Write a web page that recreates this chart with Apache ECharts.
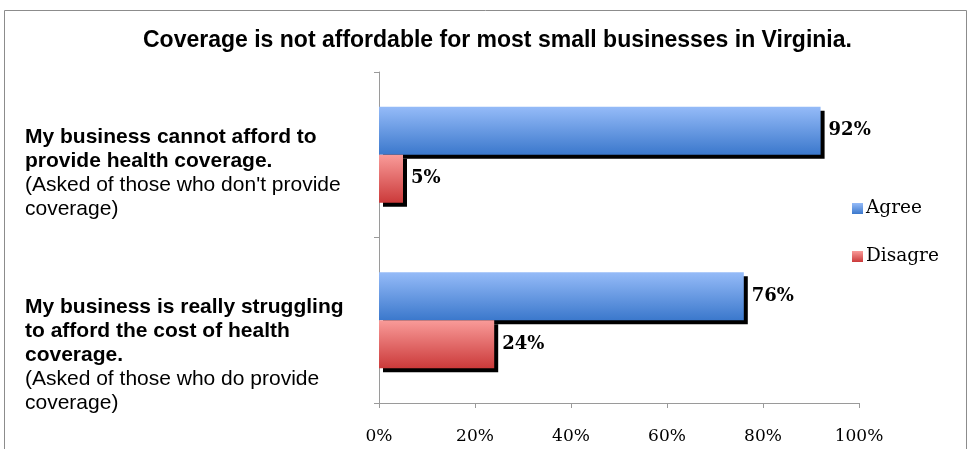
<!DOCTYPE html>
<html>
<head>
<meta charset="utf-8">
<script src="https://cdn.jsdelivr.net/npm/echarts@6/dist/echarts.min.js"></script>
<style>html,body{margin:0;padding:0;background:#fff}#c{width:971px;height:449px}</style>
</head>
<body>
<div id="c"></div>
<script>
const titleText = 'Coverage is not affordable for most small businesses in Virginia.';
const categories = ['cannot', 'struggling'];
const categoryBold = [
  ['My business cannot afford to', 'provide health coverage.'],
  ['My business is really struggling', 'to afford the cost of health', 'coverage.']
];
const categoryNote = [
  ['(Asked of those who don\'t provide', 'coverage)'],
  ['(Asked of those who do provide', 'coverage)']
];
const seriesNames = ['Agree', 'Disagre'];
const agreeValues = [92, 76];
const disagreeValues = [5, 24];
const xTicks = [0, 20, 40, 60, 80, 100];

const chart = echarts.init(document.getElementById('c'), null, {renderer: 'canvas'});

function grad(top, bottom) {
  return new echarts.graphic.LinearGradient(0, 0, 0, 1, [
    {offset: 0, color: top}, {offset: 1, color: bottom}
  ]);
}
const blue = grad('#95BBF8', '#3B78CC');
const red = grad('#F99B99', '#CB3A3A');

const barStyle = (c) => ({
  color: c, shadowColor: '#000', shadowBlur: 0, shadowOffsetX: 4, shadowOffsetY: 4
});
const valueLabel = {
  show: true, position: 'right', distance: 8,
  formatter: '{c}%', color: '#000',
  fontFamily: 'DejaVu Serif', fontWeight: 'bold', fontSize: 18
};

chart.setOption({
  animation: false,
  backgroundColor: '#fff',
  title: {
    text: titleText, left: 138, top: 24,
    textStyle: {fontFamily: 'Liberation Sans, Arial', fontWeight: 'bold', fontSize: 23, color: '#000'}
  },
  graphic: [{
    type: 'rect', shape: {x: 4.5, y: 10.5, width: 962, height: 470},
    style: {fill: 'none', stroke: '#8c8c8c', lineWidth: 1}, silent: true, z: 100
  }],
  legend: {
    orient: 'vertical', left: 847, top: 194, itemGap: 29,
    itemWidth: 11, itemHeight: 11, icon: 'rect',
    data: seriesNames,
    itemStyle: {shadowColor: 'rgba(0,0,0,0)', shadowOffsetX: 0, shadowOffsetY: 0},
    textStyle: {fontFamily: 'DejaVu Serif', fontSize: 18.5, color: '#000', padding: [0, 0, 0, -2]}
  },
  grid: {left: 379, right: 112, top: 72, bottom: 46, containLabel: false},
  xAxis: {
    type: 'value', min: xTicks[0], max: xTicks[xTicks.length - 1], interval: 20,
    axisLine: {show: true, lineStyle: {color: '#9a9a9a', width: 1}},
    axisTick: {show: true, length: 5, lineStyle: {color: '#9a9a9a'}},
    splitLine: {show: false},
    axisLabel: {formatter: '{value}%', margin: 25, color: '#000', fontFamily: 'DejaVu Serif', fontSize: 17}
  },
  yAxis: {
    type: 'category', inverse: true, data: categories,
    axisLine: {show: true, lineStyle: {color: '#9a9a9a', width: 1}},
    axisTick: {show: true, length: 5, lineStyle: {color: '#9a9a9a'}},
    axisLabel: {
      align: 'left', margin: 354, verticalAlign: 'middle',
      formatter: function (v, i) {
        const lines = [];
        lines.push(i === 0 ? '{g0| }' : '{g1| }');
        categoryBold[i].forEach(t => lines.push('{b|' + t + '}'));
        categoryNote[i].forEach(t => lines.push('{n|' + t + '}'));
        return lines.join('\n');
      },
      rich: {
        g0: {height: 36, lineHeight: 36, fontSize: 1},
        g1: {height: 70, lineHeight: 70, fontSize: 1},
        b: {fontFamily: 'Liberation Sans, Arial', fontWeight: 'bold', fontSize: 21, lineHeight: 24, color: '#000'},
        n: {fontFamily: 'Liberation Sans, Arial', fontWeight: 'normal', fontSize: 21, lineHeight: 24, color: '#000'}
      }
    }
  },
  series: [
    {name: seriesNames[0], type: 'bar', data: agreeValues, barGap: '0%', barCategoryGap: '42%',
     itemStyle: barStyle(blue), label: valueLabel},
    {name: seriesNames[1], type: 'bar', data: disagreeValues, barGap: '0%', barCategoryGap: '42%',
     itemStyle: barStyle(red), label: valueLabel}
  ]
});
</script>
</body>
</html>
